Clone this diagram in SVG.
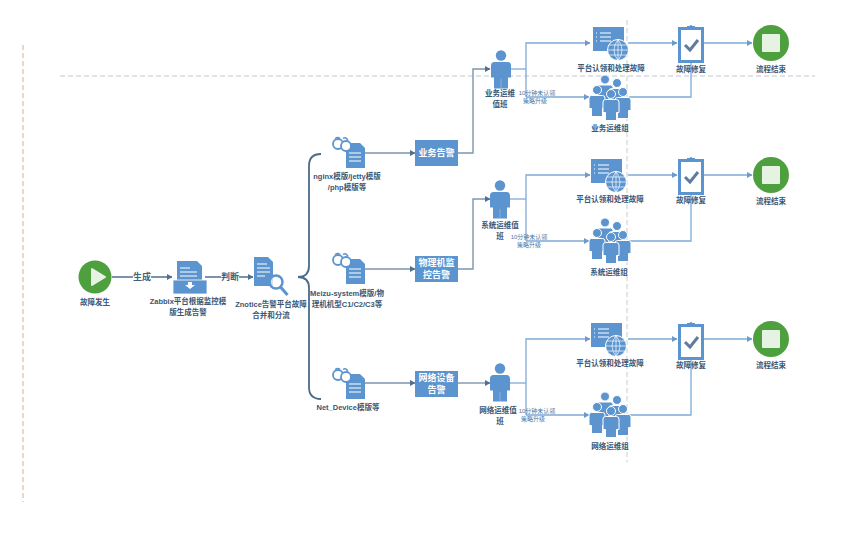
<svg xmlns="http://www.w3.org/2000/svg" width="865" height="541" viewBox="0 0 865 541">
<style>
text{font-family:"Liberation Sans","Noto Sans CJK SC",sans-serif;font-size:7.5px;font-weight:700;fill:#3a5673;text-anchor:middle}
.t2{font-size:6px;font-weight:400;fill:#4a78a8}
.big{font-size:9px;fill:#fff}
.lab{font-size:9px;fill:#3f5f80}
.ic{fill:#5b94cf}
.wl{stroke:#fff;fill:none;stroke-width:1.2}
.dk{fill:none;stroke:#4f6f90;stroke-width:1.5;marker-end:url(#a1)}
.dk0{fill:none;stroke:#4f6f90;stroke-width:1.5}
.dk1{fill:none;stroke:#7f95ad;stroke-width:1.4;marker-end:url(#a1)}
.lt{fill:none;stroke:#7eaad6;stroke-width:1.3;marker-end:url(#a2)}
.lt0{fill:none;stroke:#7eaad6;stroke-width:1.3}
.box{fill:#5b94cf}
</style>
<defs>
<marker id="a1" markerWidth="6" markerHeight="6" refX="5" refY="3" orient="auto" markerUnits="userSpaceOnUse"><path d="M0 0L5.500 3L0 6z" fill="#4f6f90"/></marker>
<marker id="a2" markerWidth="6" markerHeight="6" refX="5" refY="3" orient="auto" markerUnits="userSpaceOnUse"><path d="M0 0L5.500 3L0 6z" fill="#6d9bc9"/></marker>
<g id="person"><circle cx="10" cy="5.500" r="5.200" class="ic"/><path class="ic" d="M3.500 12h13q3.500 0 3.500 3.500v12h-3v11h-14v-11h-3v-12q0-3.500 3.500-3.500z"/><path d="M10 29v9" stroke="#8fb6de" stroke-width=".8"/></g>
<g id="member"><circle cx="8" cy="4.500" r="4.500" class="ic" stroke="#fff" stroke-width="1"/><path class="ic" stroke="#fff" stroke-width="1" d="M2.500 10h11q2.500 0 2.500 2.500v10.500h-2.500v8h-11v-8h-2.500v-10.500q0-2.500 2.500-2.500z"/></g>
<g id="team"><use href="#member" x="7" y="0"/><use href="#member" x="19" y="3.500"/><use href="#member" x="-1" y="10.500"/><use href="#member" x="25" y="12.500"/><use href="#member" x="13" y="14.500"/></g>
<g id="platform"><rect width="31" height="24" class="ic"/><path class="wl" d="M3 6h1M3 10h1M3 14h1M7 6h11M7 10h11M7 14h11" stroke-width="1.500"/><circle cx="25" cy="23" r="10.500" class="ic" stroke="#fff" stroke-width="1"/><path d="M14.500 23h21M16 18h18M16 28h18M25 12.500v21M25 12.500q-8 10.500 0 21M25 12.500q8 10.500 0 21" fill="none" stroke="#fff" stroke-width=".7"/></g>
<g id="clip"><rect x="1.500" y="3.500" width="23" height="33" fill="#fff" stroke="#5b94cf" stroke-width="3"/><rect x="9" y="1" width="8" height="4" class="ic"/><circle cx="13" cy="1.500" r="1.500" class="ic"/><path d="M7 20l5 5 8-10" fill="none" stroke="#5f7c9c" stroke-width="3"/></g>
<g id="tpl"><path class="ic" d="M18 7h10l5 5v20h-19v-20z"/><path class="wl" d="M17 17h12M17 21h12M17 25h12"/><circle cx="6" cy="8" r="5" fill="#fff" stroke="#5b94cf" stroke-width="1.800"/><circle cx="14" cy="10" r="5" fill="#fff" stroke="#5b94cf" stroke-width="1.800"/><path d="M3 2.500q3-2 5 0M11 2.500q3-2 5 2" fill="none" stroke="#5b94cf" stroke-width="1.500"/></g>
</defs>
<g id="guides" fill="none" stroke-dasharray="5 3">
<path d="M23 45V502" stroke="#e8a78f" stroke-width="1"/>
<path d="M60 76H815" stroke="#bcc8d2" stroke-width="1"/>
<path d="M627 20V462" stroke="#c9ccc9" stroke-width="1"/>
</g>
<g id="connectors">
<path class="dk0" d="M112 277H133"/><path class="dk" d="M151 277H172"/>
<path class="dk0" d="M205 277H221"/><path class="dk" d="M239 277H253"/>
<path d="M321 154q-12 0-12 12V266q0 11-11 11q11 0 11 11V387q0 12 12 12" fill="none" stroke="#4a6a8a" stroke-width="1.800"/>
<path class="dk1" d="M365 153H415"/><path class="dk1" d="M365 269H415"/><path class="dk1" d="M365 383H415"/>
<path class="dk1" d="M458 153H473V69H490"/><path class="dk1" d="M458 269H473V199H490"/><path class="dk1" d="M458 383H490"/>
<path class="lt0" d="M510 69H526"/><path class="lt" d="M526 97V43H590"/><path class="lt" d="M526 97H589"/>
<path class="lt0" d="M510 199H526"/><path class="lt" d="M526 241V175H590"/><path class="lt" d="M526 241H589"/>
<path class="lt0" d="M510 383H526"/><path class="lt" d="M526 415V339H590"/><path class="lt" d="M526 415H589"/>
<path class="lt" d="M628 43H677"/><path class="lt" d="M704 43H752"/><path class="lt0" d="M629 97H691V62"/>
<path class="lt" d="M628 175H677"/><path class="lt" d="M704 175H752"/><path class="lt0" d="M629 241H691V195"/>
<path class="lt" d="M628 339H677"/><path class="lt" d="M704 339H752"/><path class="lt0" d="M629 415H691V360"/>
</g>
<g id="start"><circle cx="95" cy="277" r="16.500" fill="#4ea03f"/><path d="M92 269l13 8-13 8z" fill="#e6f2e2" stroke="#e6f2e2" stroke-width="2" stroke-linejoin="round"/><text x="95" y="305">故障发生</text></g>
<g id="edge-generate"><text class="lab" x="142" y="280">生成</text></g>
<g id="edge-judge"><text class="lab" x="230" y="280">判断</text></g>
<g id="zabbix"><path class="ic" d="M177 261h20l5 5v18h-25z"/><path class="wl" d="M180 268h10M180 272h17M180 276h17"/><path class="ic" d="M173 280h34v14h-34z" stroke="#fff" stroke-width=".8"/><path d="M188 282h4v3h3l-5 4-5-4h3z" fill="#fff"/><text x="188" y="304">Zabbix平台根据监控模</text><text x="188" y="315">版生成告警</text></g>
<g id="znotice"><path class="ic" d="M254 257h14l5 5v24h-19z"/><path class="wl" d="M257 264h10M257 268h13M257 272h13M257 276h8"/><circle cx="276" cy="282" r="6.500" fill="#fff" fill-opacity=".7" stroke="#5b94cf" stroke-width="2.500"/><path d="M280.500 287l7 8" stroke="#5b94cf" stroke-width="3"/><text x="271" y="307">Znotice告警平台故障</text><text x="271" y="318">合并和分流</text></g>
<g id="tpl1"><use href="#tpl" x="332" y="136"/><text x="347" y="179">nginx模版/jetty模版</text><text x="347" y="190">/php模版等</text></g>
<g id="tpl2"><use href="#tpl" x="332" y="252"/><text x="347" y="296">Meizu-system模版/物</text><text x="347" y="307">理机机型C1/C2/C3等</text></g>
<g id="tpl3"><use href="#tpl" x="332" y="367"/><text x="348" y="410">Net_Device模版等</text></g>
<g id="alert1"><rect class="box" x="415" y="140" width="43" height="26"/><text class="big" x="436.500" y="156">业务告警</text></g>
<g id="alert2"><rect class="box" x="415" y="256" width="43" height="26"/><text class="big" x="436.500" y="266">物理机监</text><text class="big" x="436.500" y="278">控告警</text></g>
<g id="alert3"><rect class="box" x="415" y="371" width="43" height="26"/><text class="big" x="436.500" y="381">网络设备</text><text class="big" x="436.500" y="393">告警</text></g>
<g id="oncall1"><use href="#person" x="491" y="50"/><text x="500" y="96">业务运维</text><text x="500" y="107">值班</text></g>
<g id="oncall2"><use href="#person" x="490" y="180"/><text x="500" y="228">系统运维值</text><text x="500" y="239">班</text></g>
<g id="oncall3"><use href="#person" x="490" y="363"/><text x="498" y="413">网络运维值</text><text x="500" y="424">班</text></g>
<g id="note1"><text class="t2" x="537" y="95">10分钟未认领</text><text class="t2" x="535" y="103">策略升级</text></g>
<g id="note2"><text class="t2" x="529" y="239">10分钟未认领</text><text class="t2" x="529" y="247">策略升级</text></g>
<g id="note3"><text class="t2" x="537" y="413">10分钟未认领</text><text class="t2" x="533" y="421">策略升级</text></g>
<g id="platform1"><use href="#platform" x="593" y="27"/><text x="611" y="71">平台认领和处理故障</text></g>
<g id="platform2"><use href="#platform" x="591" y="159"/><text x="610" y="202">平台认领和处理故障</text></g>
<g id="platform3"><use href="#platform" x="591" y="323"/><text x="610" y="366">平台认领和处理故障</text></g>
<g id="team1"><use href="#team" x="590" y="75"/><text x="610" y="131">业务运维组</text></g>
<g id="team2"><use href="#team" x="590" y="218"/><text x="609" y="275">系统运维组</text></g>
<g id="team3"><use href="#team" x="590" y="392"/><text x="610" y="449">网络运维组</text></g>
<g id="fix1"><use href="#clip" x="678" y="25"/><text x="691" y="72">故障修复</text></g>
<g id="fix2"><use href="#clip" x="678" y="157"/><text x="691" y="203">故障修复</text></g>
<g id="fix3"><use href="#clip" x="678" y="322"/><text x="691" y="368">故障修复</text></g>
<g id="end1"><circle cx="771" cy="43" r="18" fill="#4ea03f"/><rect x="762" y="34" width="18" height="18" rx="1" fill="#e6f2e2"/><text x="771" y="72">流程结束</text></g>
<g id="end2"><circle cx="771" cy="175" r="18" fill="#4ea03f"/><rect x="762" y="166" width="18" height="18" rx="1" fill="#e6f2e2"/><text x="771" y="204">流程结束</text></g>
<g id="end3"><circle cx="771" cy="339" r="18" fill="#4ea03f"/><rect x="762" y="330" width="18" height="18" rx="1" fill="#e6f2e2"/><text x="771" y="368">流程结束</text></g>
</svg>
